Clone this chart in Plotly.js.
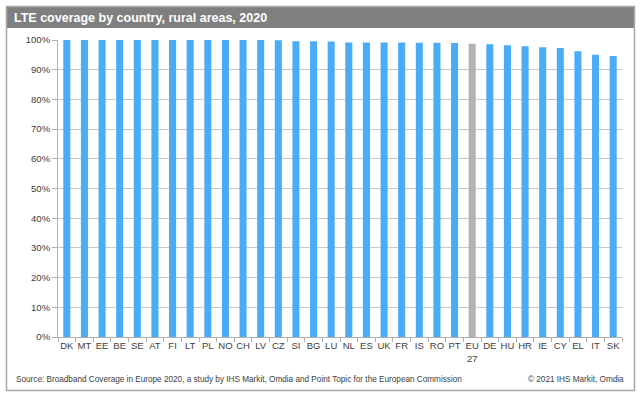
<!DOCTYPE html>
<html>
<head>
<meta charset="utf-8">
<script src="https://cdn.plot.ly/plotly-3.0.1.min.js"></script>
<style>
html,body{margin:0;padding:0;background:#fff;overflow:hidden;}
#chart{width:642px;height:397px;}
</style>
</head>
<body>
<div id="chart"></div>
<script>
// ---- data ----
const countries = ["DK","MT","EE","BE","SE","AT","FI","LT","PL","NO","CH","LV","CZ","SI","BG","LU","NL","ES","UK","FR","IS","RO","PT","EU<br>27","DE","HU","HR","IE","CY","EL","IT","SK"];
const coverage = [100,100,100,100,100,100,100,100,100,100,100,100,99.9,99.6,99.6,99.5,99.2,99.2,99.2,99.2,99.1,99.1,99.0,98.7,98.6,98.2,97.9,97.6,97.3,96.2,95.0,94.6];
const titleText = "LTE coverage by country, rural areas, 2020";
const sourceText = "Source: Broadband Coverage in Europe 2020, a study by IHS Markit, Omdia and Point Topic for the European Commission";
const creditText = "\u00a9 2021 IHS Markit, Omdia";

// ---- layout helpers ----
const W = 642, H = 397;
const M = {l:58, r:20, t:40, b:60};
const PW = W - M.l - M.r, PH = H - M.t - M.b;
const px = x => (x - M.l) / PW;
const py = y => 1 - (y - M.t) / PH;

const barColors = countries.map(c => c.startsWith("EU") ? "#b3b3b3" : "#4aacf7");
const font = "Liberation Sans, Arial, sans-serif";

const trace = {
  type: "bar",
  x: countries,
  y: coverage,
  marker: {color: barColors, line: {width: 0}},
  hoverinfo: "x+y"
};

const layout = {
  width: W, height: H,
  margin: M,
  paper_bgcolor: "#ffffff",
  plot_bgcolor: "#ffffff",
  showlegend: false,
  bargap: 0.6,
  font: {family: font, size: 9.5, color: "#404040"},
  title: {
    text: "<b>" + titleText + "</b>",
    font: {family: font, size: 12.5, color: "#ffffff"},
    xref: "container", yref: "container",
    x: 14 / W, xanchor: "left",
    y: 1 - 17.5 / H, yanchor: "middle"
  },
  xaxis: {
    type: "category",
    showgrid: false,
    showline: true, linecolor: "#b0b0b0", linewidth: 1,
    ticks: "outside", ticklen: 4, tickcolor: "#b0b0b0",
    tickson: "boundaries",
    tickangle: 0,
    tickfont: {family: font, size: 9.5, color: "#404040"},
    fixedrange: true
  },
  yaxis: {
    range: [0, 100],
    dtick: 10,
    ticksuffix: "%",
    showgrid: true, gridcolor: "#c8c8c8", gridwidth: 1,
    zeroline: false,
    showline: true, linecolor: "#b0b0b0", linewidth: 1,
    ticks: "outside", ticklen: 5, tickcolor: "#b0b0b0",
    tickfont: {family: font, size: 9.5, color: "#404040"},
    fixedrange: true
  },
  shapes: [
    {type: "rect", xref: "paper", yref: "paper", layer: "below",
     x0: px(6), x1: px(635), y0: py(6), y1: py(28),
     fillcolor: "#7f7f7f", line: {width: 0}},
    {type: "rect", xref: "paper", yref: "paper", layer: "below",
     x0: px(6.5), x1: px(634.5), y0: py(6.5), y1: py(390.5),
     fillcolor: "rgba(0,0,0,0)", line: {color: "#a6a6a6", width: 1.5}}
  ],
  annotations: [
    {text: sourceText, xref: "paper", yref: "paper", x: px(14), y: py(380),
     xanchor: "left", yanchor: "middle", showarrow: false,
     font: {family: font, size: 8.2, color: "#404040"}},
    {text: creditText, xref: "paper", yref: "paper", x: px(626), y: py(380),
     xanchor: "right", yanchor: "middle", showarrow: false,
     font: {family: font, size: 8.2, color: "#404040"}}
  ]
};

Plotly.newPlot("chart", [trace], layout, {displayModeBar: false, staticPlot: true});
</script>
</body>
</html>
